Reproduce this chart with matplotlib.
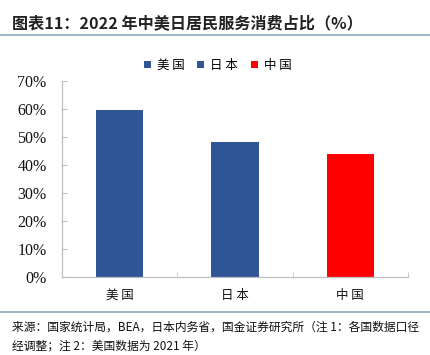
import matplotlib
matplotlib.use("Agg")
import matplotlib.pyplot as plt
from matplotlib.lines import Line2D

plt.rcParams['font.family'] = ['Noto Sans CJK SC', 'DejaVu Sans']

# 数据
countries = ['美 国', '日 本', '中 国']
shares = [0.598, 0.483, 0.440]
bar_colors = ['#2F5597', '#2F5597', '#FF0000']
yticks = [0, 0.1, 0.2, 0.3, 0.4, 0.5, 0.6, 0.7]
ytick_labels = ['0%', '10%', '20%', '30%', '40%', '50%', '60%', '70%']

title = '图表11：2022 年中美日居民服务消费占比（%）'
source_1 = '来源：国家统计局，BEA，日本内务省，国金证券研究所（注 1：各国数据口径'
source_2 = '经调整；注 2：美国数据为 2021 年）'

fig = plt.figure(figsize=(4.3, 3.55), dpi=100)
ax = fig.add_axes([0.1442, 0.2206, 0.8046, 0.5512])

x = range(len(countries))
for i in x:
    ax.bar(i, shares[i], width=0.41, color=bar_colors[i], label=countries[i], zorder=2)

ax.set_xlim(-0.5, len(countries) - 0.5)
ax.set_ylim(0, 0.7)
ax.set_yticks(yticks)
ax.set_yticklabels(ytick_labels, fontfamily='Liberation Serif', fontsize=11.5)
ax.set_xticks(list(x))
ax.set_xticklabels(countries, fontsize=9)
ax.set_xticks([-0.5, 0.5, 1.5, 2.5], minor=True)

axis_gray = '#BFBFBF'
for side in ['top', 'right']:
    ax.spines[side].set_visible(False)
for side in ['left', 'bottom']:
    ax.spines[side].set_color(axis_gray)
    ax.spines[side].set_linewidth(0.9)

ax.tick_params(axis='y', direction='in', length=3.5, pad=11, colors='#111111')
ax.tick_params(axis='y', color=axis_gray)
ax.tick_params(axis='x', which='major', length=0, pad=9, colors='#111111')
ax.tick_params(axis='x', which='minor', direction='in', length=3.5, color=axis_gray)

leg = ax.legend(loc='lower center', bbox_to_anchor=(0.45, 1.02), ncol=3, frameon=False,
                fontsize=9, handlelength=0.55, handleheight=0.55, handletextpad=0.5,
                columnspacing=1.0, borderaxespad=0)

# 标题与分隔线
fig.text(0.028, 0.934, title, fontsize=11.6, fontweight='bold', style='italic',
         color='#222222', va='center', ha='left')
rule_color = '#8FA8BA'
fig.add_artist(Line2D([0, 1], [0.9028, 0.9028], color=rule_color, lw=1.2))
fig.add_artist(Line2D([0, 1], [0.122, 0.122], color=rule_color, lw=1.2))

fig.text(0.028, 0.079, source_1, fontsize=8.5, color='#111111', va='center', ha='left')
fig.text(0.028, 0.025, source_2, fontsize=8.5, color='#111111', va='center', ha='left')

fig.savefig('out.png', dpi=100)
